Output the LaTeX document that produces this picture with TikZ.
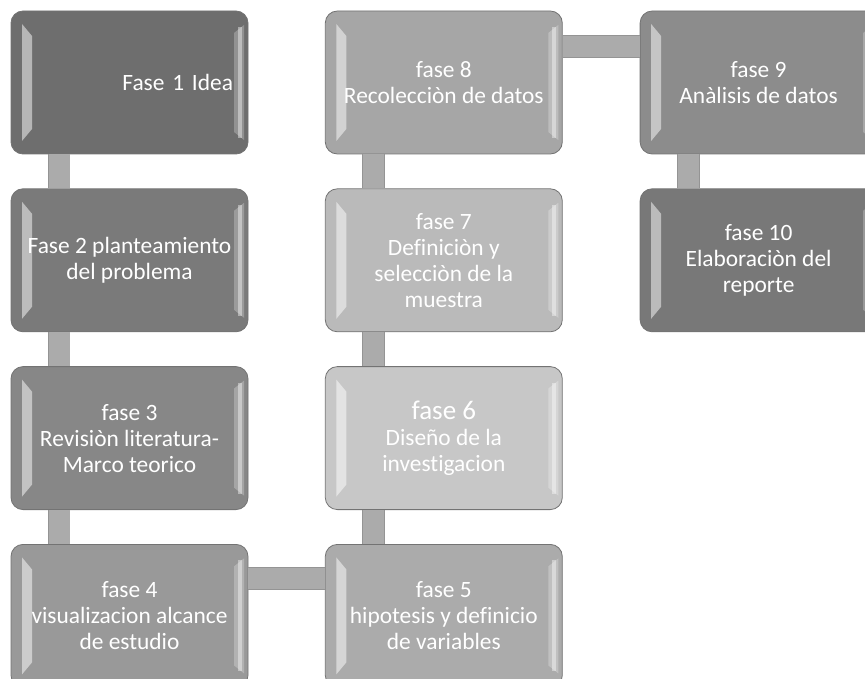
\documentclass[tikz,border=0pt]{standalone}
\usepackage{fontspec}
\setmainfont{Carlito}[Ligatures={NoCommon,NoContextual}]
\usetikzlibrary{positioning}

\newcommand{\fasefont}{\fontsize{23.4}{26}\selectfont}
\newcommand{\bigfase}{\fontsize{27}{30}\selectfont}

\tikzstyle{fase} = [rectangle, rounded corners=12pt, draw=black!55, line width=0.8pt,
	minimum width=237pt, minimum height=143pt, inner sep=0pt,
	text=white, align=center, font=\fasefont,
	path picture={
		\fill[sharp corners, white, opacity=0.5] ([xshift=11pt,yshift=-13pt]path picture bounding box.north west)
			-- ++(10pt,-12pt) -- ([xshift=21pt,yshift=25pt]path picture bounding box.south west)
			-- ++(-10pt,-12pt) -- cycle;
		\fill[sharp corners, white, opacity=0.25] ([xshift=-14pt,yshift=-22pt]path picture bounding box.north east)
			-- ++(10pt,8pt) -- ([xshift=-4pt,yshift=14pt]path picture bounding box.south east)
			-- ++(-10pt,8pt) -- cycle;
		\fill[sharp corners, white, opacity=0.4] ([xshift=-10pt,yshift=-16pt]path picture bounding box.north east)
			-- ++(4pt,0pt) -- ([xshift=-6pt,yshift=16pt]path picture bounding box.south east)
			-- ++(-4pt,0pt) -- cycle;
	}]
\tikzstyle{bar} = [line width=0.8pt, draw=black!42, double=black!33, double distance=21pt]

\begin{document}
\begin{tikzpicture}[x=1pt, y=1pt, node distance=34pt and 76.5pt]
	\useasboundingbox (0,0) rectangle (865,-679);
	% first column, top to bottom
	\node[fase, fill=black!57, align=right, text width=207pt] (f1) at (129.5,-82.5) {Fase 1 Idea};
	\node[fase, fill=black!52, below=of f1] (f2) {Fase 2 planteamiento\\del problema};
	\node[fase, fill=black!47, below=of f2] (f3) {fase 3\\Revisiòn literatura-\\Marco teorico};
	\node[fase, fill=black!40, below=of f3] (f4) {fase 4\\visualizacion alcance\\de estudio};
	% second column, bottom to top
	\node[fase, fill=black!33, right=of f4] (f5) {fase 5\\hipotesis y definicio\\de variables};
	\node[fase, fill=black!22, above=of f5] (f6) {{\bigfase fase 6}\\Diseño de la\\investigacion};
	\node[fase, fill=black!27, above=of f6] (f7) {fase 7\\Definiciòn y\\selecciòn de la\\muestra};
	\node[fase, fill=black!35, above=of f7] (f8) {fase 8\\Recolecciòn de datos};
	% third column
	\node[fase, fill=black!45, right=77pt of f8] (f9) {fase 9\\Anàlisis de datos};
	\node[fase, fill=black!53, below=of f9] (f10) {fase 10\\Elaboraciòn del\\reporte};

	% connecting bars
	\draw[bar] ([xshift=48.5pt]f1.south west) -- ([xshift=48.5pt]f2.north west);
	\draw[bar] ([xshift=48.5pt]f2.south west) -- ([xshift=48.5pt]f3.north west);
	\draw[bar] ([xshift=48.5pt]f3.south west) -- ([xshift=48.5pt]f4.north west);
	\draw[bar] ([yshift=-34.5pt]f4.north east) -- ([yshift=-34.5pt]f5.north west);
	\draw[bar] ([xshift=48.5pt]f5.north west) -- ([xshift=48.5pt]f6.south west);
	\draw[bar] ([xshift=48.5pt]f6.north west) -- ([xshift=48.5pt]f7.south west);
	\draw[bar] ([xshift=48.5pt]f7.north west) -- ([xshift=48.5pt]f8.south west);
	\draw[bar] ([yshift=-36pt]f8.north east) -- ([yshift=-36pt]f9.north west);
	\draw[bar] ([xshift=48.5pt]f9.south west) -- ([xshift=48.5pt]f10.north west);
\end{tikzpicture}
\end{document}
